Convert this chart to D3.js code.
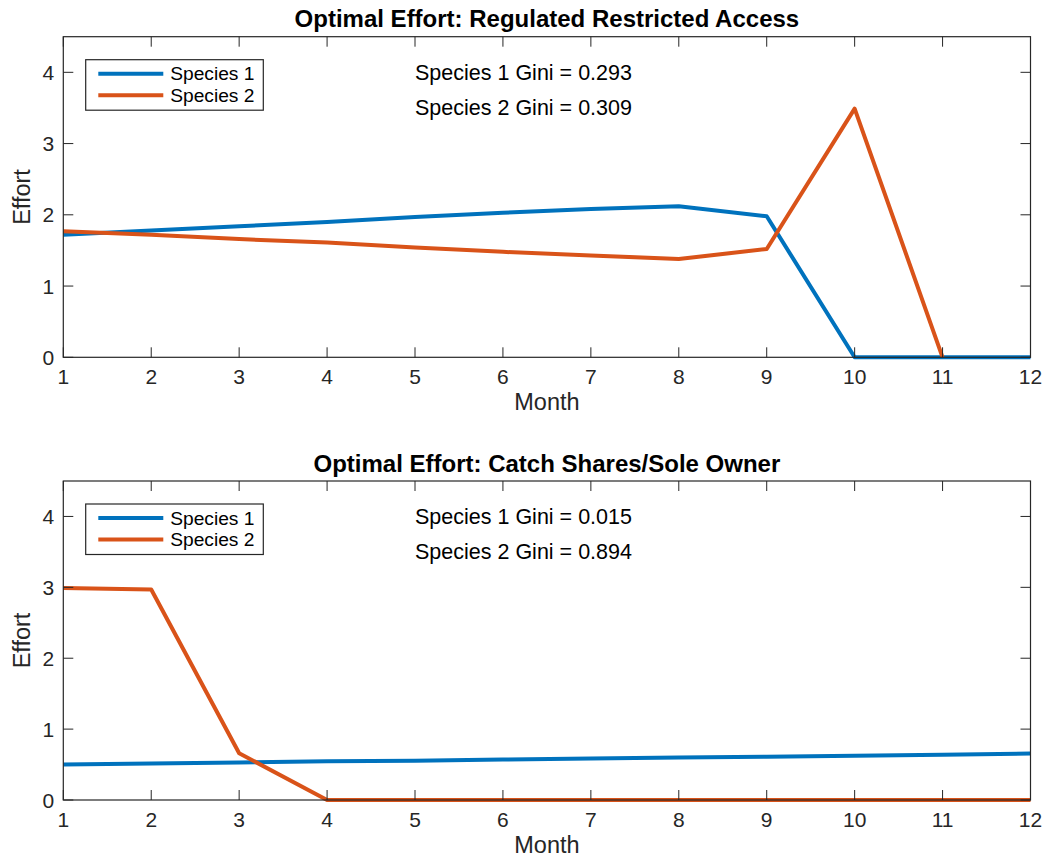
<!DOCTYPE html>
<html>
<head>
<meta charset="utf-8">
<script src="https://cdn.jsdelivr.net/npm/d3@7"></script>
<style>
  html, body { margin: 0; padding: 0; background: #fff; }
  svg { display: block; font-family: "Liberation Sans", Arial, Helvetica, sans-serif; }
</style>
</head>
<body>
<svg id="chart" width="1049" height="859"></svg>
<script>
// ---- data ----
const months = [1, 2, 3, 4, 5, 6, 7, 8, 9, 10, 11, 12];
const xTicks = [1, 2, 3, 4, 5, 6, 7, 8, 9, 10, 11, 12];
const yTicks = [0, 1, 2, 3, 4];
const seriesNames = ["Species 1", "Species 2"];

const titleTop = "Optimal Effort: Regulated Restricted Access";
const topSpecies1 = [1.72, 1.78, 1.84, 1.90, 1.97, 2.03, 2.08, 2.12, 1.98, 0, 0, 0];
const topSpecies2 = [1.77, 1.72, 1.66, 1.61, 1.54, 1.48, 1.43, 1.38, 1.52, 3.49, 0, null];
const topGini = ["Species 1 Gini = 0.293", "Species 2 Gini = 0.309"];

const titleBottom = "Optimal Effort: Catch Shares/Sole Owner";
const bottomSpecies1 = [0.50, 0.515, 0.53, 0.545, 0.555, 0.57, 0.585, 0.60, 0.61, 0.625, 0.64, 0.655];
const bottomSpecies2 = [2.99, 2.97, 0.66, 0, 0, 0, 0, 0, 0, 0, 0, 0];
const bottomGini = ["Species 1 Gini = 0.015", "Species 2 Gini = 0.894"];

const giniPosX = 5;
const giniPosY = [4.0, 3.5];
const yDomain = [0, 4.5];
const xLabel = "Month";
const yLabel = "Effort";

// ---- styles ----
const colors = ["#0072BD", "#D95319"];
const axisColor = "#262626";

const svg = d3.select("#chart");

function drawPanel(cfg) {
  const { top, bottom, left, right, title, s1, s2, gini } = cfg;
  const g = svg.append("g");
  const x = d3.scaleLinear().domain([1, 12]).range([left, right]);
  const y = d3.scaleLinear().domain(yDomain).range([bottom, top]);
  const tickLen = 10;

  // lines
  const line = d3.line()
    .defined(d => d.v !== null)
    .x(d => x(d.m)).y(d => y(d.v));
  [s1, s2].forEach((s, i) => {
    g.append("path")
      .datum(months.map((m, k) => ({ m, v: s[k] })))
      .attr("d", line)
      .attr("fill", "none")
      .attr("stroke", colors[i])
      .attr("stroke-width", 4)
      .attr("stroke-linejoin", "round")
      .attr("stroke-linecap", "butt");
  });

  // box
  g.append("rect")
    .attr("x", left).attr("y", top)
    .attr("width", right - left).attr("height", bottom - top)
    .attr("fill", "none").attr("stroke", axisColor).attr("stroke-width", 1.2);

  // x ticks (bottom & top, inward)
  xTicks.forEach(t => {
    const xx = x(t);
    g.append("line").attr("x1", xx).attr("x2", xx).attr("y1", bottom).attr("y2", bottom - tickLen)
      .attr("stroke", axisColor).attr("stroke-width", 1);
    g.append("line").attr("x1", xx).attr("x2", xx).attr("y1", top).attr("y2", top + tickLen)
      .attr("stroke", axisColor).attr("stroke-width", 1);
    g.append("text").attr("x", xx).attr("y", bottom + 26.5)
      .attr("text-anchor", "middle").attr("font-size", 21).attr("fill", axisColor)
      .text(t);
  });
  // y ticks (left & right)
  yTicks.forEach(t => {
    const yy = y(t);
    g.append("line").attr("x1", left).attr("x2", left + tickLen).attr("y1", yy).attr("y2", yy)
      .attr("stroke", axisColor).attr("stroke-width", 1);
    g.append("line").attr("x1", right).attr("x2", right - tickLen).attr("y1", yy).attr("y2", yy)
      .attr("stroke", axisColor).attr("stroke-width", 1);
    g.append("text").attr("x", left - 9).attr("y", yy + 7.5)
      .attr("text-anchor", "end").attr("font-size", 21).attr("fill", axisColor)
      .text(t);
  });

  // title
  g.append("text").attr("x", (left + right) / 2).attr("y", top - 9.5)
    .attr("text-anchor", "middle").attr("font-size", 24).attr("font-weight", "bold")
    .attr("fill", "#000").text(title);

  // axis labels
  g.append("text").attr("x", (left + right) / 2).attr("y", bottom + 53)
    .attr("text-anchor", "middle").attr("font-size", 23.5).attr("fill", axisColor)
    .text(xLabel);
  g.append("text")
    .attr("transform", `translate(${30},${(top + bottom) / 2}) rotate(-90)`)
    .attr("text-anchor", "middle").attr("font-size", 23.5).attr("fill", axisColor)
    .text(yLabel);

  // gini annotations
  gini.forEach((txt, i) => {
    g.append("text").attr("x", x(giniPosX)).attr("y", y(giniPosY[i]) + 7.5)
      .attr("text-anchor", "start").attr("font-size", 21.5).attr("fill", "#000")
      .text(txt);
  });

  // legend
  const lx = 85.7, ly = top + 23, lw = 177.6, lh = 50.5;
  g.append("rect").attr("x", lx).attr("y", ly).attr("width", lw).attr("height", lh)
    .attr("fill", "#fff").attr("stroke", axisColor).attr("stroke-width", 1.2);
  seriesNames.forEach((name, i) => {
    const yy = ly + 14 + i * 21.5;
    g.append("line").attr("x1", lx + 12.6).attr("x2", lx + 77.6).attr("y1", yy).attr("y2", yy)
      .attr("stroke", colors[i]).attr("stroke-width", 4);
    g.append("text").attr("x", lx + 84.5).attr("y", yy + 6.5)
      .attr("font-size", 19.2).attr("fill", "#000").text(name);
  });
}

drawPanel({ top: 36.7, bottom: 357.3, left: 63.3, right: 1030.5,
  title: titleTop, s1: topSpecies1, s2: topSpecies2, gini: topGini });
drawPanel({ top: 481, bottom: 800, left: 63.3, right: 1030.5,
  title: titleBottom, s1: bottomSpecies1, s2: bottomSpecies2, gini: bottomGini });
</script>
</body>
</html>
